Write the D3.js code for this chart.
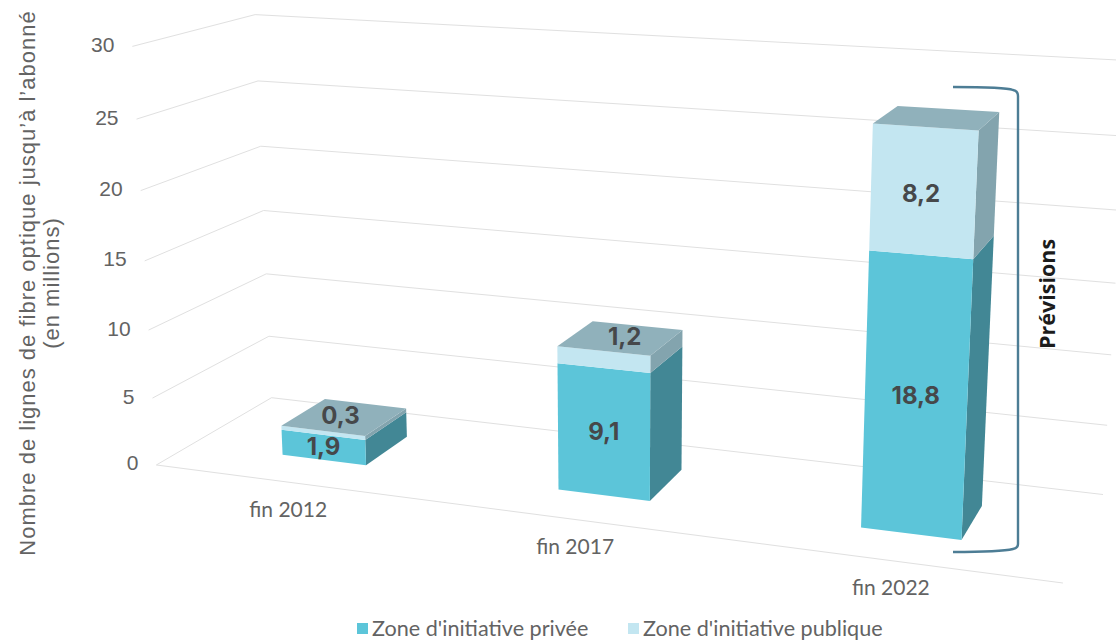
<!DOCTYPE html>
<html><head><meta charset="utf-8">
<script src="https://cdn.jsdelivr.net/npm/d3@7"></script>
<style>html,body{margin:0;padding:0;background:#fff}svg{display:block}</style>
</head><body><svg id="c" width="1116" height="640"></svg>
<script>
const categories = ["fin 2012", "fin 2017", "fin 2022"];
const seriesNames = ["Zone d'initiative privée", "Zone d'initiative publique"];
const priveeValues = [1.9, 9.1, 18.8];
const publiqueValues = [0.3, 1.2, 8.2];
const tickValues = [0, 5, 10, 15, 20, 25, 30];
const axisTitle = ["Nombre de lignes de fibre optique jusqu’à l’abonné", "(en millions)"];
const annotation = "Prévisions";

// --- camera calibration: [u, w, value, screenX, screenY]
const calib = [
 [0,0,0,157,465],[0,1,0,270,397],[1,1,0,1103,495],[1,0,0,1062,583],
 [0,0,5,152,398],[0,1,5,270,336],[1,1,5,1107,425],
 [0,0,15,145,261],[0,1,15,264,211],[1,1,15,1116,283],
 [0,0,30,132,46],[0,1,30,255,15],[1,1,30,1128,60],
 [.78,.3,27,872,123],[.885,.3,27,978,130],[.885,.7,27,999,113],[.78,.3,18.8,868,251],
 [.114,.3,0,282,455],[.885,.3,0,962,540]
];
function solve(A,b){const n=b.length;const M=A.map((r,i)=>[...r,b[i]]);
 for(let i=0;i<n;i++){let p=i;for(let k=i+1;k<n;k++)if(Math.abs(M[k][i])>Math.abs(M[p][i]))p=k;
  [M[i],M[p]]=[M[p],M[i]];
  for(let k=i+1;k<n;k++){const f=M[k][i]/M[i][i];for(let j=i;j<=n;j++)M[k][j]-=f*M[i][j];}}
 const x=Array(n).fill(0);for(let i=n-1;i>=0;i--){let s=M[i][n];for(let j=i+1;j<n;j++)s-=M[i][j]*x[j];x[i]=s/M[i][i];}return x;}
const zScale = d3.scaleLinear().domain([0,30]).range([0,1]);
const P = (function(){const rows=[],rhs=[];
 calib.forEach(([u,w,v,x,y])=>{const z=zScale(v);const sx=x/1000,sy=y/1000;
  rows.push([u,w,z,1,0,0,0,0,-sx*u,-sx*w,-sx*z]);rhs.push(sx);
  rows.push([0,0,0,0,u,w,z,1,-sy*u,-sy*w,-sy*z]);rhs.push(sy);});
 const n=11,A=d3.range(n).map(i=>d3.range(n).map(j=>d3.sum(rows,r=>r[i]*r[j])));
 const b=d3.range(n).map(i=>d3.sum(rows,(r,k)=>r[i]*rhs[k]));
 return solve(A,b);})();
function project(u,w,v){const z=zScale(v);const d=P[8]*u+P[9]*w+P[10]*z+1;
 return [1000*(P[0]*u+P[1]*w+P[2]*z+P[3])/d,1000*(P[4]*u+P[5]*w+P[6]*z+P[7])/d];}

const uScale = d3.scaleBand().domain(categories).range([0,1]).paddingInner(0.688).paddingOuter(0.344);
const wFront=0.30, wBack=0.70;
const svg = d3.select("#c");
const line = d3.line();
const closed = pts => line(pts)+"Z";
const GRID="#e0e0e0", TXT="#636363", LBL="#46484a";

// walls
svg.append("g").selectAll("path").data(tickValues).join("path")
 .attr("fill","none").attr("stroke",GRID).attr("stroke-width",1)
 .attr("d",v=>line([project(0,0,v),project(0,1,v),project(1,1,v)]));
svg.append("path").attr("fill","none").attr("stroke",GRID)
 .attr("d",line([project(0,0,0),project(1,0,0)]));

// value axis labels
svg.append("g").selectAll("text").data(tickValues).join("text")
 .attr("x",v=>project(0,0,v)[0]-18).attr("y",v=>project(0,0,v)[1]-2)
 .attr("text-anchor","end").attr("dominant-baseline","central")
 .attr("font-family","Liberation Sans").attr("font-size",21).attr("fill",TXT).text(v=>v);

// category labels
svg.append("g").selectAll("text").data(categories).join("text")
 .attr("x",c=>project(uScale(c)+uScale.bandwidth()/2,0,0)[0]-2)
 .attr("y",c=>project(uScale(c)+uScale.bandwidth()/2,0,0)[1]+26)
 .attr("text-anchor","middle").attr("dominant-baseline","central")
 .attr("font-family","Lato").attr("font-size",21).attr("fill",TXT).text(c=>c);

// stacked bars
const colours=[{front:"#5cc5d9",side:"#428795",top:"#428795"},{front:"#c3e6f1",side:"#83a4ae",top:"#90b1bb"}];
categories.forEach((c,i)=>{
 const u0=uScale(c),u1=u0+uScale.bandwidth();
 const g=svg.append("g");
 const stack=[[0,priveeValues[i]],[priveeValues[i],priveeValues[i]+publiqueValues[i]]];
 stack.forEach(([a,b],s)=>{
  g.append("path").attr("fill",colours[s].side)
   .attr("d",closed([project(u1,wFront,a),project(u1,wBack,a),project(u1,wBack,b),project(u1,wFront,b)]));
  g.append("path").attr("fill",colours[s].front)
   .attr("d",closed([project(u0,wFront,a),project(u1,wFront,a),project(u1,wFront,b),project(u0,wFront,b)]));
 });
 const t=stack[1][1];
 g.append("path").attr("fill",colours[1].top)
  .attr("d",closed([project(u0,wFront,t),project(u1,wFront,t),project(u1,wBack,t),project(u0,wBack,t)]));
});

// value labels: tall segments sit on the front face, thin ones on the top face
const labels=[];
categories.forEach((c,i)=>{
 const um=uScale(c)+uScale.bandwidth()/2;
 const a=priveeValues[i],b=publiqueValues[i];
 const pa=project(um,wFront,a/2);
 labels.push({v:a,x:pa[0],y:pa[1]-1});
 const onTop=b<3;
 const pb=onTop?project(um,.5,a+b):project(um,wFront,a+b/2);
 labels.push({v:b,x:pb[0]+(onTop?(i===0?-4:4):-2),y:pb[1]+(onTop?-2:2)});
});
svg.append("g").selectAll("text").data(labels).join("text")
 .attr("x",d=>d.x).attr("y",d=>d.y).attr("text-anchor","middle").attr("dominant-baseline","central")
 .attr("font-family","Inter").attr("font-weight",700).attr("font-size",24).attr("fill",LBL)
 .text(d=>String(d.v).replace(".",","));

// axis title
axisTitle.forEach((t,i)=>{
 svg.append("text").attr("transform",`translate(${27+i*24},283) rotate(-90)`)
  .attr("text-anchor","middle").attr("dominant-baseline","central").attr("letter-spacing",1)
  .attr("font-family","Liberation Sans").attr("font-size",22).attr("fill",TXT).text(t);
});

// bracket
const br=d3.path();
br.moveTo(953,87);br.bezierCurveTo(985,87,1008,88,1013,90);br.quadraticCurveTo(1018,91,1018,96);
br.lineTo(1018,544);br.quadraticCurveTo(1018,548,1013,549);br.bezierCurveTo(1005,551,985,552,953,552);
svg.append("path").attr("d",br.toString()).attr("fill","none").attr("stroke","#4d7d95").attr("stroke-width",2.4);
svg.append("text").attr("transform","translate(1046,294) rotate(-90)").attr("text-anchor","middle")
 .attr("dominant-baseline","central").attr("font-family","Open Sans").attr("font-weight",700)
 .attr("font-size",21.5).attr("fill","#1c1c1c").text(annotation);

// legend
const legend=[{x:357,c:colours[0].front,t:seriesNames[0]},{x:628,c:colours[1].front,t:seriesNames[1]}];
const lg=svg.append("g").selectAll("g").data(legend).join("g");
lg.append("rect").attr("x",d=>d.x).attr("y",623).attr("width",11).attr("height",11).attr("fill",d=>d.c);
lg.append("text").attr("x",d=>d.x+15).attr("y",628).attr("dominant-baseline","central")
 .attr("font-family","Lato").attr("font-size",21.6).attr("fill",TXT).text(d=>d.t);
</script></body></html>
